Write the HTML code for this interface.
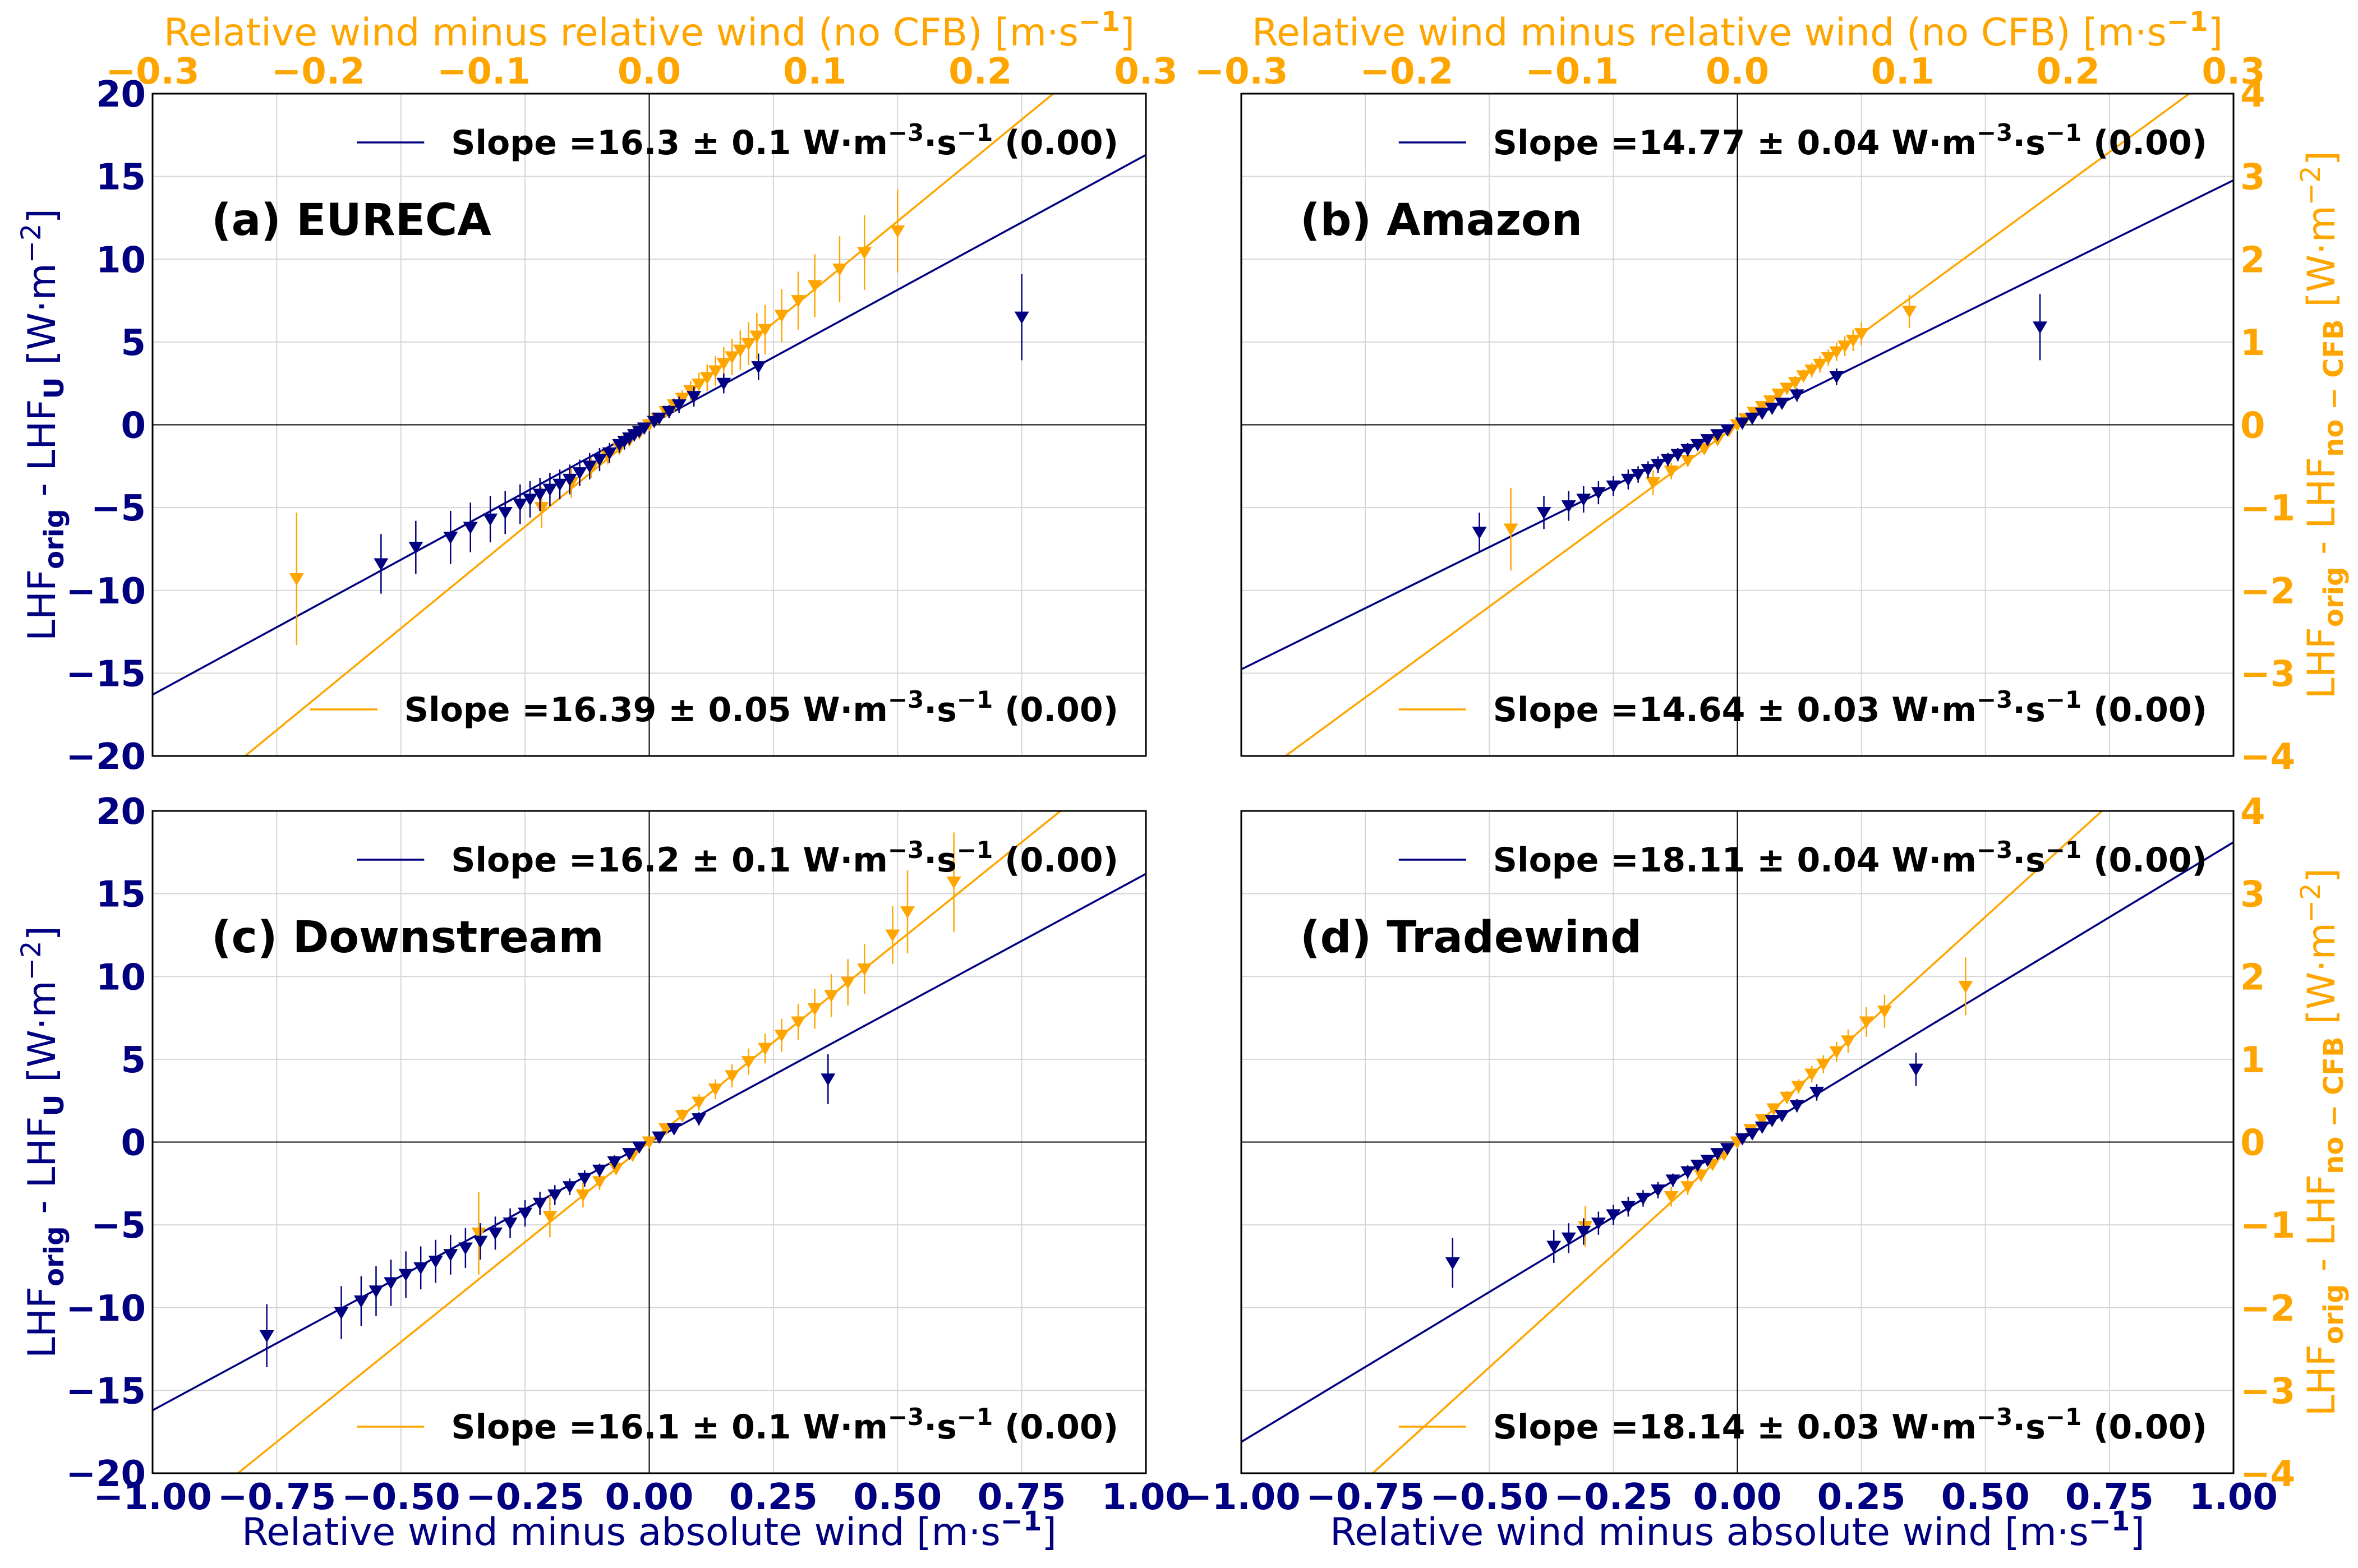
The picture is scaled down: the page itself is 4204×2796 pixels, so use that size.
<!DOCTYPE html>
<html><head><meta charset="utf-8"><style>
html,body{margin:0;padding:0;background:#fff}
svg{display:block;font-family:"DejaVu Sans","Liberation Sans",sans-serif}
</style></head><body>
<svg id="chart" width="4204" height="2796" viewBox="0 0 4204 2796" xmlns="http://www.w3.org/2000/svg"></svg>
<script>
// ---- data ----
const panelLabels = ["(a) EURECA","(b) Amazon","(c) Downstream","(d) Tradewind"];
const navySlopeText = ["16.3 ± 0.1","14.77 ± 0.04","16.2 ± 0.1","18.11 ± 0.04"];
const orangeSlopeText = ["16.39 ± 0.05","14.64 ± 0.03","16.1 ± 0.1","18.14 ± 0.03"];
const navySlopes = [16.3,14.77,16.2,18.11];
const orangeSlopes = [16.39,14.64,16.1,18.14];
const bottomTicks = [-1.00,-0.75,-0.50,-0.25,0.00,0.25,0.50,0.75,1.00];
const topTicks = [-0.3,-0.2,-0.1,0.0,0.1,0.2,0.3];
const leftTicks = [-20,-15,-10,-5,0,5,10,15,20];
const rightTicks = [-4,-3,-2,-1,0,1,2,3,4];

const aNavyX = [-0.54,-0.47,-0.40,-0.36,-0.32,-0.29,-0.26,-0.24,-0.22,-0.20,-0.18,-0.16,-0.14,-0.12,-0.10,-0.08,-0.06,-0.05,-0.04,-0.03,-0.02,-0.01,0.01,0.02,0.04,0.06,0.09,0.15,0.22,0.75];
const aNavyY = [-8.4,-7.4,-6.8,-6.2,-5.7,-5.3,-4.8,-4.5,-4.2,-3.9,-3.6,-3.3,-2.9,-2.5,-2.1,-1.7,-1.2,-1.0,-0.8,-0.6,-0.4,-0.2,0.2,0.4,0.8,1.2,1.7,2.5,3.5,6.5];
const aNavyE = [1.8,1.6,1.6,1.5,1.4,1.3,1.2,1.1,1.0,1.0,0.9,0.9,0.8,0.8,0.7,0.6,0.5,0.5,0.4,0.4,0.3,0.3,0.3,0.3,0.4,0.5,0.6,0.6,0.8,2.6];
const aOrX = [-0.213,-0.065,-0.047,-0.035,-0.025,-0.018,-0.012,-0.006,0.0,0.005,0.01,0.015,0.02,0.025,0.03,0.035,0.04,0.045,0.05,0.055,0.06,0.065,0.07,0.08,0.09,0.10,0.115,0.13,0.15];
const aOrY = [-1.86,-1.0,-0.7,-0.52,-0.38,-0.28,-0.19,-0.1,0.0,0.08,0.16,0.24,0.32,0.41,0.49,0.57,0.65,0.74,0.82,0.9,0.98,1.07,1.15,1.32,1.5,1.68,1.88,2.08,2.34];
const aOrE = [0.8,0.25,0.18,0.12,0.1,0.08,0.07,0.06,0.06,0.06,0.07,0.08,0.1,0.12,0.14,0.16,0.18,0.2,0.22,0.24,0.26,0.28,0.3,0.32,0.35,0.38,0.4,0.45,0.5];

const bNavyX = [-0.52,-0.39,-0.34,-0.31,-0.28,-0.25,-0.22,-0.20,-0.18,-0.16,-0.14,-0.12,-0.10,-0.08,-0.06,-0.04,-0.02,0.01,0.03,0.05,0.07,0.09,0.12,0.20,0.61];
const bNavyY = [-6.5,-5.3,-4.9,-4.5,-4.1,-3.7,-3.3,-3.0,-2.7,-2.4,-2.1,-1.8,-1.5,-1.2,-0.9,-0.6,-0.3,0.1,0.4,0.7,1.0,1.3,1.8,2.9,5.9];
const bNavyE = [1.2,1.0,0.9,0.8,0.7,0.6,0.6,0.5,0.5,0.5,0.4,0.4,0.4,0.3,0.3,0.3,0.3,0.3,0.3,0.3,0.3,0.3,0.4,0.5,2.0];
const bOrX = [-0.137,-0.051,-0.04,-0.03,-0.02,-0.012,-0.005,0.0,0.005,0.01,0.015,0.02,0.025,0.03,0.035,0.04,0.045,0.05,0.055,0.06,0.065,0.07,0.075,0.104];
const bOrY = [-1.26,-0.7,-0.56,-0.43,-0.29,-0.18,-0.07,0.0,0.07,0.15,0.22,0.29,0.37,0.44,0.51,0.59,0.66,0.73,0.81,0.88,0.95,1.02,1.1,1.37];
const bOrE = [0.5,0.15,0.1,0.08,0.06,0.05,0.05,0.05,0.05,0.05,0.05,0.06,0.06,0.07,0.08,0.08,0.09,0.1,0.1,0.11,0.12,0.13,0.14,0.2];

const cNavyX = [-0.77,-0.62,-0.58,-0.55,-0.52,-0.49,-0.46,-0.43,-0.40,-0.37,-0.34,-0.31,-0.28,-0.25,-0.22,-0.19,-0.16,-0.13,-0.10,-0.07,-0.04,-0.02,0.02,0.05,0.10,0.36];
const cNavyY = [-11.7,-10.3,-9.6,-9.0,-8.5,-8.0,-7.6,-7.2,-6.8,-6.4,-6.0,-5.5,-4.9,-4.3,-3.7,-3.2,-2.7,-2.2,-1.7,-1.2,-0.7,-0.3,0.3,0.8,1.4,3.8];
const cNavyE = [1.9,1.6,1.5,1.5,1.4,1.4,1.3,1.3,1.2,1.2,1.1,1.0,0.9,0.8,0.7,0.6,0.5,0.5,0.4,0.4,0.3,0.3,0.3,0.3,0.4,1.5];
const cOrX = [-0.103,-0.06,-0.04,-0.03,-0.02,-0.01,0.0,0.01,0.02,0.03,0.04,0.05,0.06,0.07,0.08,0.09,0.10,0.11,0.12,0.13,0.147,0.156,0.184];
const cOrY = [-1.1,-0.9,-0.64,-0.48,-0.32,-0.16,0.0,0.16,0.32,0.48,0.64,0.8,0.97,1.13,1.29,1.45,1.61,1.77,1.93,2.09,2.5,2.78,3.14];
const cOrE = [0.5,0.25,0.15,0.1,0.08,0.06,0.05,0.06,0.08,0.1,0.12,0.14,0.16,0.18,0.2,0.22,0.24,0.26,0.28,0.3,0.35,0.5,0.6];

const dNavyX = [-0.574,-0.37,-0.34,-0.31,-0.28,-0.25,-0.22,-0.19,-0.16,-0.13,-0.10,-0.08,-0.06,-0.04,-0.02,0.01,0.03,0.05,0.07,0.09,0.12,0.16,0.36];
const dNavyY = [-7.3,-6.3,-5.8,-5.4,-4.9,-4.4,-3.9,-3.4,-2.9,-2.3,-1.8,-1.4,-1.1,-0.7,-0.4,0.2,0.5,0.9,1.3,1.6,2.2,3.0,4.4];
const dNavyE = [1.5,1.0,0.9,0.8,0.7,0.6,0.6,0.5,0.5,0.4,0.4,0.3,0.3,0.3,0.3,0.3,0.3,0.3,0.3,0.3,0.4,0.5,1.0];
const dOrX = [-0.092,-0.04,-0.03,-0.022,-0.015,-0.008,0.0,0.008,0.015,0.022,0.03,0.037,0.045,0.052,0.06,0.067,0.078,0.089,0.138];
const dOrY = [-1.02,-0.66,-0.54,-0.4,-0.27,-0.15,0.0,0.15,0.27,0.4,0.54,0.67,0.82,0.94,1.09,1.22,1.45,1.58,1.88];
const dOrE = [0.25,0.12,0.1,0.08,0.06,0.05,0.05,0.05,0.06,0.07,0.08,0.09,0.1,0.11,0.12,0.14,0.18,0.2,0.35];

const navyX=[aNavyX,bNavyX,cNavyX,dNavyX], navyY=[aNavyY,bNavyY,cNavyY,dNavyY], navyE=[aNavyE,bNavyE,cNavyE,dNavyE];
const orX=[aOrX,bOrX,cOrX,dOrX], orY=[aOrY,bOrY,cOrY,dOrY], orE=[aOrE,bOrE,cOrE,dOrE];

// ---- layout ----
const NAVY="#000080", ORANGE="#FFA500";
const svg=document.getElementById('chart');
const NS="http://www.w3.org/2000/svg";
function mk(tag,attrs,parent){const e=document.createElementNS(NS,tag);for(const k in attrs)e.setAttribute(k,attrs[k]);(parent||svg).appendChild(e);return e;}
const layout=[{L:272,R:2043,T:167,B:1348},{L:2213,R:3982,T:167,B:1348},{L:272,R:2043,T:1446,B:2627},{L:2213,R:3982,T:1446,B:2627}];
const defs=mk('defs',{});
const fmt2=v=>(v<0?"−":"")+Math.abs(v).toFixed(2);
const fmt1=v=>(v<0?"−":"")+Math.abs(v).toFixed(1);
const fmt0=v=>(v<0?"−":"")+Math.abs(v);
const TICK=64, TITLE=68, SUB=48;

layout.forEach((p,i)=>{
  const W=p.R-p.L,H=p.B-p.T;
  const xb=v=>p.L+(v+1)/2*W, xt=v=>p.L+(v+0.3)/0.6*W;
  const yl=v=>p.T+(20-v)/40*H, yr=v=>p.T+(4-v)/8*H;
  const g=mk('g',{});  
  const cp=mk('clipPath',{id:'cp'+i},defs); mk('rect',{x:p.L,y:p.T,width:W,height:H},cp);
  const grid=mk('g',{},g);  
  bottomTicks.forEach(v=>{ if(v>-1&&v<1&&v!==0) mk('line',{x1:xb(v),x2:xb(v),y1:p.T,y2:p.B,stroke:'#d6d6d6','stroke-width':2},grid);});
  leftTicks.forEach(v=>{ if(v>-20&&v<20&&v!==0) mk('line',{x1:p.L,x2:p.R,y1:yl(v),y2:yl(v),stroke:'#d6d6d6','stroke-width':2},grid);});
  mk('line',{x1:xb(0),x2:xb(0),y1:p.T,y2:p.B,stroke:'#000','stroke-width':2},grid);
  mk('line',{x1:p.L,x2:p.R,y1:yl(0),y2:yl(0),stroke:'#000','stroke-width':2},grid);
  const plot=mk('g',{'clip-path':'url(#cp'+i+')'},g);
  const nl=mk('line',{x1:xb(-1),y1:yl(-navySlopes[i]),x2:xb(1),y2:yl(navySlopes[i]),stroke:NAVY,'stroke-width':3.5},plot);
   
  const ol=mk('line',{x1:xt(-0.3),y1:yr(-0.3*orangeSlopes[i]),x2:xt(0.3),y2:yr(0.3*orangeSlopes[i]),stroke:ORANGE,'stroke-width':3.5},plot);
   
  function tri(cx,cy,col){ const s=13; return mk('polygon',{points:`${cx-s},${cy-10} ${cx+s},${cy-10} ${cx},${cy+12}`,fill:col},plot);}
  orX[i].forEach((v,j)=>{const cx=xt(v),cy=yr(orY[i][j]),e=orE[i][j]*H/8;
    const eb=mk('line',{x1:cx,x2:cx,y1:cy-e,y2:cy+e,stroke:ORANGE,'stroke-width':2.5},plot);
     
    const m=tri(cx,cy,ORANGE);  });
  navyX[i].forEach((v,j)=>{const cx=xb(v),cy=yl(navyY[i][j]),e=navyE[i][j]*H/40;
    const eb=mk('line',{x1:cx,x2:cx,y1:cy-e,y2:cy+e,stroke:NAVY,'stroke-width':2.5},plot);
     
    const m=tri(cx,cy,NAVY);  });
  mk('rect',{x:p.L,y:p.T,width:W,height:H,fill:'none',stroke:'#000','stroke-width':3},g);
  const pl=mk('text',{x:p.L+105,y:p.T+252,'font-size':78,'font-weight':'bold',fill:'#000'},g); pl.textContent=panelLabels[i];
   
  function legend(y,col,txt,nm){
    const t=mk('text',{x:p.L+1722,y:y+21,'font-size':60,'font-weight':'bold','text-anchor':'end',fill:'#000'},g);
     
    t.appendChild(document.createTextNode('Slope ='+txt+' W·m'));
    mk('tspan',{dy:-24,'font-size':42},t).textContent='−3';
    mk('tspan',{dy:24},t).textContent='·s';
    mk('tspan',{dy:-24,'font-size':42},t).textContent='−1';
    mk('tspan',{dy:24},t).textContent=' (0.00)';
    const st=p.L+1722-t.getComputedTextLength();
    mk('line',{x1:st-168,x2:st-48,y1:y,y2:y,stroke:col,'stroke-width':3.5},g);
  }
  legend(p.T+87,NAVY,navySlopeText[i],'navy-legend');
  legend(p.B-83,ORANGE,orangeSlopeText[i],'orange-legend');
  const tk=mk('g',{'font-size':TICK,'font-weight':'bold'},g);
  if(i<2){ topTicks.forEach(v=>{const t=mk('text',{x:xt(v),y:p.T-18,'text-anchor':'middle',fill:ORANGE},tk);t.textContent=fmt1(v);});
    const t=mk('text',{x:(p.L+p.R)/2,y:p.T-86,'text-anchor':'middle','font-size':TITLE,'font-weight':'normal',fill:ORANGE},g);
     
    t.appendChild(document.createTextNode('Relative wind minus relative wind (no CFB) [m·s'));
    mk('tspan',{dy:-26,'font-size':SUB,'font-weight':'bold'},t).textContent='−1'; mk('tspan',{dy:26},t).textContent=']';}
  if(i>=2){ bottomTicks.forEach(v=>{const t=mk('text',{x:xb(v),y:p.B+64,'text-anchor':'middle',fill:NAVY},tk);t.textContent=fmt2(v);});
    const t=mk('text',{x:(p.L+p.R)/2,y:p.B+128,'text-anchor':'middle','font-size':TITLE,fill:NAVY},g);
     
    t.appendChild(document.createTextNode('Relative wind minus absolute wind [m·s'));
    mk('tspan',{dy:-26,'font-size':SUB,'font-weight':'bold'},t).textContent='−1'; mk('tspan',{dy:26},t).textContent=']';}
  if(i%2===0){ leftTicks.forEach(v=>{const t=mk('text',{x:p.L-12,y:yl(v)+23,'text-anchor':'end',fill:NAVY},tk);t.textContent=fmt0(v);});
    const cy=(p.T+p.B)/2;
    const t=mk('text',{x:0,y:0,transform:`translate(98,${cy}) rotate(-90)`,'text-anchor':'middle','font-size':TITLE,fill:NAVY},g);
     
    t.appendChild(document.createTextNode('LHF'));
    mk('tspan',{dy:15,'font-size':SUB,'font-weight':'bold'},t).textContent='orig';
    mk('tspan',{dy:-15},t).textContent=' - LHF';
    mk('tspan',{dy:15,'font-size':SUB,'font-weight':'bold'},t).textContent='U';
    mk('tspan',{dy:-15},t).textContent=' [W·m';
    mk('tspan',{dy:-26,'font-size':SUB},t).textContent='−2';
    mk('tspan',{dy:26},t).textContent=']';}
  else { rightTicks.forEach(v=>{const t=mk('text',{x:p.R+12,y:yr(v)+23,'text-anchor':'start',fill:ORANGE},tk);t.textContent=fmt0(v);});
    const cy=(p.T+p.B)/2;
    const t=mk('text',{x:0,y:0,transform:`translate(4162,${cy}) rotate(-90)`,'text-anchor':'middle','font-size':TITLE,fill:ORANGE},g);
     
    t.appendChild(document.createTextNode('LHF'));
    mk('tspan',{dy:15,'font-size':SUB,'font-weight':'bold'},t).textContent='orig';
    mk('tspan',{dy:-15},t).textContent=' - LHF';
    mk('tspan',{dy:15,'font-size':SUB,'font-weight':'bold'},t).textContent='no − CFB';
    mk('tspan',{dy:-15},t).textContent=' [W·m';
    mk('tspan',{dy:-26,'font-size':SUB},t).textContent='−2';
    mk('tspan',{dy:26},t).textContent=']';}
});
</script>
</body></html>
